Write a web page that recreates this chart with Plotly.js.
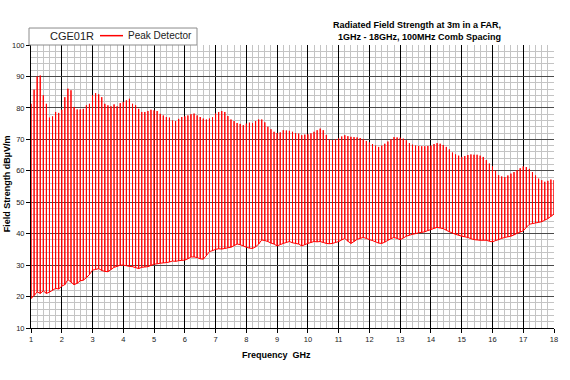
<!DOCTYPE html>
<html>
<head>
<meta charset="utf-8">
<script src="https://cdn.plot.ly/plotly-3.0.1.min.js"></script>
<style>
html,body{margin:0;padding:0;background:#fff;}
#chart{width:570px;height:380px;}
</style>
</head>
<body>
<div id="chart"></div>
<script>
// Comb spacing 100 MHz, 1 GHz .. 18 GHz
const combStartGHz = 1.0;
const combStepGHz = 0.1;
const combCount = 171;

// Peak level of each comb line (dBuV/m), 1.0, 1.1, ... 18.0 GHz
const peakLevels = [
  81.3, 85.8, 90.0, 90.3, 84.0, 81.3, 76.9, 77.3, 78.7, 78.4,
  79.4, 83.4, 86.1, 85.6, 80.3, 79.5, 79.5, 79.7, 80.8, 81.3,
  84.0, 84.7, 84.3, 83.4, 81.3, 80.8, 80.5, 81.1, 80.5, 81.5,
  81.9, 82.4, 82.9, 81.3, 80.8, 79.7, 78.7, 78.7, 79.0, 79.4,
  79.2, 79.0, 78.1, 77.6, 77.1, 76.9, 76.0, 75.8, 76.5, 77.1,
  77.3, 77.6, 78.0, 78.2, 77.6, 77.1, 76.6, 76.3, 76.6, 77.0,
  78.2, 78.7, 79.0, 78.7, 77.4, 76.3, 75.8, 75.2, 74.9, 74.5,
  75.0, 75.3, 75.2, 75.8, 76.3, 76.3, 75.4, 74.0, 73.2, 72.4,
  72.0, 72.2, 72.9, 72.8, 72.7, 72.4, 72.0, 71.8, 71.3, 71.5,
  71.6, 71.9, 72.4, 72.9, 73.4, 72.9, 71.4, 70.0, 69.8, 70.0,
  70.3, 70.9, 71.3, 71.0, 70.8, 70.7, 70.6, 70.4, 70.0, 69.5,
  69.0, 68.5, 68.0, 67.6, 68.0, 68.6, 69.3, 70.0, 70.7, 70.6,
  70.5, 70.2, 69.7, 68.8, 68.3, 68.0, 67.9, 67.8, 67.8, 67.9,
  68.0, 68.5, 68.8, 68.6, 68.2, 67.6, 66.8, 65.8, 65.2, 64.8,
  64.4, 64.7, 65.0, 65.2, 65.1, 65.1, 64.8, 64.4, 63.4, 62.3,
  61.4, 60.0, 58.6, 58.2, 58.0, 58.5, 59.1, 59.6, 60.2, 60.8,
  61.4, 61.2, 60.6, 59.6, 58.5, 57.5, 57.0, 56.5, 56.8, 57.2,
  57.0
];

// Noise floor next to each comb line (dBuV/m)
const floorLevels = [
  19.4, 20.3, 21.5, 21.0, 21.8, 21.0, 21.4, 22.0, 22.6, 22.4,
  23.3, 23.8, 25.4, 24.6, 23.8, 24.2, 25.0, 25.2, 26.0, 27.0,
  28.4, 28.6, 28.9, 28.3, 28.0, 27.9, 28.6, 29.3, 29.6, 30.0,
  30.0, 29.8, 29.6, 29.5, 29.2, 28.9, 29.3, 29.4, 29.5, 29.9,
  30.3, 30.4, 30.6, 30.7, 30.8, 31.0, 31.3, 31.2, 31.4, 31.5,
  31.6, 32.0, 32.6, 32.6, 32.4, 32.0, 31.9, 33.0, 34.3, 34.6,
  35.0, 35.2, 35.1, 35.3, 35.5, 35.7, 36.2, 36.7, 36.5, 36.1,
  35.7, 35.4, 35.3, 35.8, 36.7, 38.0, 37.8, 37.5, 37.0, 36.7,
  36.1, 36.5, 36.9, 37.2, 37.5, 37.1, 36.9, 36.7, 36.1, 36.5,
  36.9, 37.2, 37.5, 37.4, 37.5, 37.2, 36.9, 36.8, 36.9, 37.2,
  37.5, 38.0, 38.5, 37.6, 36.9, 37.5, 38.2, 38.5, 38.8, 38.5,
  38.1, 37.8, 37.4, 37.0, 36.9, 37.3, 37.9, 38.4, 38.8, 38.5,
  38.1, 38.6, 39.2, 39.5, 39.8, 40.0, 40.3, 40.4, 40.6, 41.0,
  41.3, 41.7, 42.0, 41.8, 41.6, 41.1, 40.6, 40.2, 39.8, 39.5,
  39.2, 39.0, 38.8, 38.4, 38.1, 38.0, 37.9, 37.9, 37.9, 37.6,
  37.4, 37.8, 38.1, 38.5, 38.8, 39.0, 39.2, 39.6, 40.1, 40.5,
  40.9, 42.0, 43.0, 43.2, 43.4, 43.6, 43.8, 44.3, 44.8, 45.5,
  46.2
];

const xTickLabels = ['1','2','3','4','5','6','7','8','9','10','11','12','13','14','15','16','17','18'];
const yTickLabels = ['10','20','30','40','50','60','70','80','90','100'];

const seriesName = 'Peak Detector';
const legendTitle = 'CGE01R';
const chartTitle = 'Radiated Field Strength at 3m in a FAR,<br>1GHz - 18GHz, 100MHz Comb Spacing';
const xTitle = 'Frequency  GHz';
const yTitle = 'Field Strength dB\u00b5V/m';

// Build the spectrum trace: each comb line rises from the floor to its peak
const xs = [], ys = [];
for (let i = 0; i < combCount; i++) {
  const f = +(combStartGHz + i * combStepGHz).toFixed(1);
  xs.push(f, f, f);
  ys.push(floorLevels[i], peakLevels[i], floorLevels[i]);
}

const FONT = 'Arial, Liberation Sans, sans-serif';
const RED = '#ff0000';

const data = [{
  x: xs, y: ys, type: 'scatter', mode: 'lines', name: seriesName,
  line: {color: RED, width: 1}, showlegend: false
}];

// legend box geometry (paper coords relative to the plot area)
const lg = {x0: -0.0038, x1: 0.3174, y0: 1.0, y1: 1.060, yc: 1.033};

const layout = {
  width: 570, height: 380,
  margin: {l: 31, r: 16, t: 45, b: 52},
  paper_bgcolor: '#ffffff', plot_bgcolor: '#ffffff',
  font: {family: FONT, size: 7, color: '#222'},
  showlegend: false,
  xaxis: {
    range: [1, 18], tickmode: 'array',
    tickvals: xTickLabels.map(Number), ticktext: xTickLabels,
    showgrid: true, gridcolor: '#000000', gridwidth: 1,
    minor: {dtick: 0.2, tick0: 1, showgrid: true, gridcolor: '#c4c4c4', gridwidth: 1},
    ticks: 'outside', ticklen: 4, tickcolor: '#000', tickwidth: 1,
    showline: true, linecolor: '#000', linewidth: 1,
    zeroline: false, fixedrange: true,
    tickfont: {family: FONT, size: 7.5, color: '#222'}
  },
  yaxis: {
    range: [10, 100], tickmode: 'array',
    tickvals: yTickLabels.map(Number), ticktext: yTickLabels,
    showgrid: true, gridcolor: '#4a4a4a', gridwidth: 1,
    minor: {dtick: 2, tick0: 10, showgrid: true, gridcolor: '#c4c4c4', gridwidth: 1},
    ticks: 'outside', ticklen: 4, tickcolor: '#000', tickwidth: 1,
    showline: true, linecolor: '#000', linewidth: 1,
    zeroline: false, fixedrange: true,
    tickfont: {family: FONT, size: 7.5, color: '#222'}
  },
  shapes: [
    {type: 'rect', xref: 'paper', yref: 'paper', x0: lg.x0, x1: lg.x1, y0: lg.y0, y1: lg.y1,
     line: {color: '#8c8c8c', width: 1}, fillcolor: '#ffffff', layer: 'above'},
    {type: 'line', xref: 'paper', yref: 'paper', x0: 0.1319, x1: 0.1759, y0: lg.yc, y1: lg.yc,
     line: {color: RED, width: 1.5}, layer: 'above'}
  ],
  annotations: [
    {text: legendTitle, xref: 'paper', yref: 'paper', x: 0.0784, y: lg.yc,
     xanchor: 'center', yanchor: 'middle', showarrow: false,
     font: {family: FONT, size: 11, color: '#222'}},
    {text: seriesName, xref: 'paper', yref: 'paper', x: 0.1816, y: lg.yc,
     xanchor: 'left', yanchor: 'middle', showarrow: false,
     font: {family: FONT, size: 10, color: '#222'}},
    {text: '<b>' + chartTitle + '</b>', xref: 'paper', yref: 'paper',
     x: 0.9025, y: 1.0495, xanchor: 'right', yanchor: 'middle', align: 'right',
     showarrow: false, font: {family: FONT, size: 9, color: '#000'}},
    {text: '<b>' + xTitle + '</b>', xref: 'paper', yref: 'paper',
     x: 0.470, y: -0.095, xanchor: 'center', yanchor: 'middle',
     showarrow: false, font: {family: FONT, size: 9, color: '#000'}},
    {text: '<b>' + yTitle + '</b>', xref: 'paper', yref: 'paper', textangle: -90,
     x: -0.0335, y: 0.51, xanchor: 'right', yanchor: 'middle',
     showarrow: false, font: {family: FONT, size: 9, color: '#000'}}
  ]
};

Plotly.newPlot('chart', data, layout, {staticPlot: true, displayModeBar: false});
</script>
</body>
</html>
